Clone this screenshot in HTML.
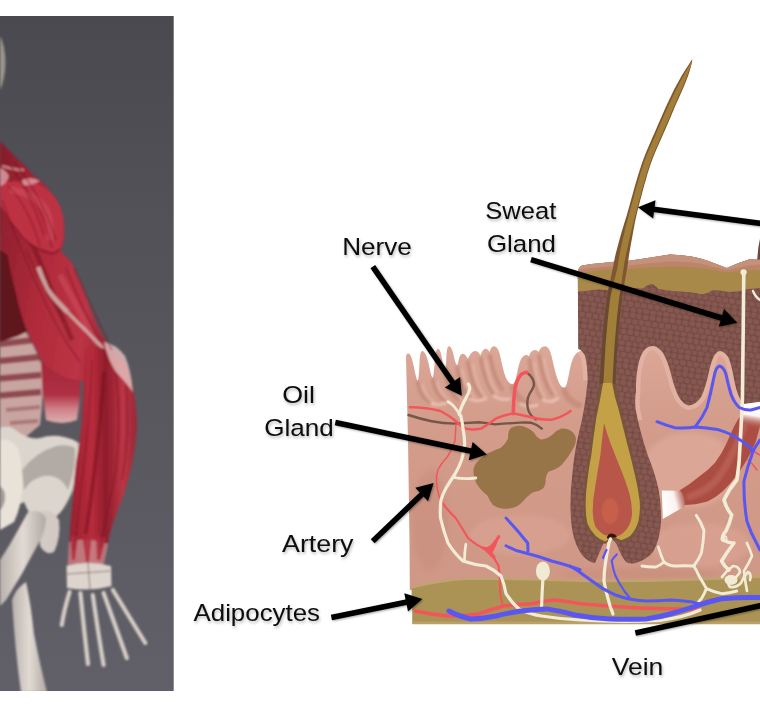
<!DOCTYPE html>
<html lang="en">
<head>
<meta charset="utf-8">
<title>Skin anatomy</title>
<style>
html,body{margin:0;padding:0;background:#fff;}
body{width:760px;height:712px;overflow:hidden;position:relative;font-family:"Liberation Sans",sans-serif;}
svg{position:absolute;left:0;top:0;display:block;}
.lbl{font-family:"Liberation Sans",sans-serif;font-size:24.5px;fill:#0c0c0c;}
</style>
</head>
<body>
<svg width="760" height="712" viewBox="0 0 760 712">
<defs>
  <linearGradient id="bgPhoto" x1="0" y1="0" x2="0" y2="1">
    <stop offset="0" stop-color="#4a4950"/>
    <stop offset="0.32" stop-color="#535258"/>
    <stop offset="0.65" stop-color="#5a5960"/>
    <stop offset="1" stop-color="#615f68"/>
  </linearGradient>
  <clipPath id="clipPhoto"><rect x="0" y="16" width="173.7" height="675"/></clipPath>
  <filter id="b1" x="-20%" y="-20%" width="140%" height="140%"><feGaussianBlur stdDeviation="1.2"/></filter>
  <filter id="b2" x="-20%" y="-20%" width="140%" height="140%"><feGaussianBlur stdDeviation="2.5"/></filter>
  <filter id="b08" x="-20%" y="-20%" width="140%" height="140%"><feGaussianBlur stdDeviation="0.9"/></filter>
  <filter id="soft" x="-2%" y="-2%" width="104%" height="104%"><feGaussianBlur stdDeviation="0.45"/></filter>
  <filter id="b05" x="-20%" y="-20%" width="140%" height="140%"><feGaussianBlur stdDeviation="0.6"/></filter>
  <filter id="tsh" x="-20%" y="-30%" width="140%" height="180%">
    <feGaussianBlur in="SourceAlpha" stdDeviation="1.4" result="b"/>
    <feOffset in="b" dx="0.8" dy="1.6" result="o"/>
    <feComponentTransfer in="o" result="s"><feFuncA type="linear" slope="0.28"/></feComponentTransfer>
    <feMerge><feMergeNode in="s"/><feMergeNode in="SourceGraphic"/></feMerge>
  </filter>
  <filter id="ash" x="-20%" y="-20%" width="140%" height="140%">
    <feGaussianBlur in="SourceAlpha" stdDeviation="1.2" result="b"/>
    <feOffset in="b" dx="0.6" dy="1.4" result="o"/>
    <feComponentTransfer in="o" result="s"><feFuncA type="linear" slope="0.35"/></feComponentTransfer>
    <feMerge><feMergeNode in="s"/><feMergeNode in="SourceGraphic"/></feMerge>
  </filter>
  <pattern id="cells" width="20" height="17" patternUnits="userSpaceOnUse" patternTransform="rotate(8)">
    <rect width="20" height="17" fill="#734a44"/>
    <g fill="#86584f">
    <path d="M0.8 1.5 Q3.5 0.2 6 1.2 Q7.2 3.2 6.2 5.4 Q3.6 6.6 1.2 5.4 Q0 3.4 0.8 1.5Z"/>
    <path d="M7.8 0.8 Q10.5 -0.2 13 1 Q14 3.5 12.6 5.6 Q10 6.4 8 5.2 Q7 3 7.8 0.8Z"/>
    <path d="M14.6 1.2 Q17 0.2 19.2 1.4 Q20 4 18.8 6 Q16.4 6.8 14.6 5.6 Q13.8 3.4 14.6 1.2Z"/>
    <path d="M-2.2 7 Q0.5 6 2.6 7.2 Q3.6 9.6 2.4 11.6 Q0 12.6 -2.2 11.4Z"/>
    <path d="M17.8 7 Q20.5 6 22.6 7.2 Q23.6 9.6 22.4 11.6 Q20 12.6 17.8 11.4 Q17 9 17.8 7Z"/>
    <path d="M4.2 7 Q7 6 9.6 7.2 Q10.6 9.6 9.4 11.6 Q6.8 12.6 4.4 11.4 Q3.4 9 4.2 7Z"/>
    <path d="M11.2 7 Q13.6 6.2 16 7.4 Q17 9.6 16 11.6 Q13.6 12.4 11.4 11.4 Q10.4 9.2 11.2 7Z"/>
    <path d="M0.8 12.8 Q3.6 11.8 6.2 13 Q7 15 6.2 16.6 Q3.4 17.4 1 16.4 Q0 14.6 0.8 12.8Z"/>
    <path d="M7.8 12.8 Q10.6 12 13 13.2 Q13.8 15 13 16.6 Q10.4 17.4 8 16.4 Q7 14.6 7.8 12.8Z"/>
    <path d="M14.6 12.8 Q17 12 19.2 13.2 Q20 15 19.2 16.6 Q17 17.4 14.8 16.4 Q14 14.6 14.6 12.8Z"/>
    </g>
  </pattern>
</defs>

<!-- ================= PHOTO ================= -->
<g id="photo" clip-path="url(#clipPhoto)">
  <rect x="0" y="16" width="174" height="675" fill="url(#bgPhoto)"/>
  <g id="photo-shapes" filter="url(#b1)">
  <defs>
<linearGradient id="mus1" x1="0" y1="0" x2="1" y2="0.3">
<stop offset="0" stop-color="#861c2a"/><stop offset="0.45" stop-color="#b02b3b"/><stop offset="0.8" stop-color="#bb3445"/><stop offset="1" stop-color="#962231"/></linearGradient>
<linearGradient id="mus2" x1="0" y1="0" x2="1" y2="0">
<stop offset="0" stop-color="#941e2e"/><stop offset="0.35" stop-color="#b92c3d"/><stop offset="0.55" stop-color="#8e1c2b"/><stop offset="0.8" stop-color="#bd3545"/><stop offset="1" stop-color="#9a2735"/></linearGradient>
<linearGradient id="bone1" x1="0" y1="0" x2="1" y2="0">
<stop offset="0" stop-color="#b9b2ad"/><stop offset="0.5" stop-color="#e2dbd3"/><stop offset="1" stop-color="#b0a8a4"/></linearGradient>
</defs>
<!-- skull sliver -->
<path fill="#9b948c" d="M0 36 Q5 45 5.5 62 Q5 80 0 90 Z"/>
<!-- pole / lower leg bone -->
<path fill="url(#bone1)" d="M12 600 Q16 588 26 582 Q31 605 34 634 Q40 665 47 692 L21 692 Q15 650 12 600Z"/>
<!-- spine / ribs -->
<path fill="#c9a5a1" d="M0 330 L22 326 Q34 345 42 366 Q44 395 40 425 L22 440 L0 436 Z"/>
<g stroke="#7c2c35" stroke-width="6.5" opacity="0.75"><path d="M0 344 L34 340 M0 361 L40 357 M0 378.5 L41 375 M0 395.5 L41 392"/></g>
<g stroke="#8a4a4c" stroke-width="4" opacity="0.5"><path d="M6 410 L40 407 M10 423 L38 421"/></g>
<!-- dark torso behind arm -->
<path fill="#5e121b" d="M0 236 L9 250 Q16 290 30 330 L18 336 L0 342 Z"/>
<!-- pelvis -->
<path fill="#dcd5cd" d="M0 428 Q10 424 18 432 Q30 440 40 438 Q52 434 64 437 Q74 439 78.5 443 Q80 466 72 492 Q66 506 60 513 Q52 522 40 522 Q30 518 24 502 L0 514 Z"/>
<path fill="#a9a29e" d="M22 470 Q36 452 56 446 Q68 444 75 448 Q76 468 68 490 Q60 474 44 476 Q32 478 24 490 Z" opacity="0.85"/>
<path fill="#e9e2d9" d="M0 440 Q10 438 18 448 Q24 470 22 492 Q20 510 14 522 L0 530 Z"/>
<path fill="#8f8a88" d="M0 486 Q6 490 5 500 Q3 508 0 510Z" opacity="0.8"/>
<path fill="#d2cac3" d="M40 512 Q52 508 59 520 Q61 538 54 552 Q46 556 40 546 Z"/>
<!-- femur -->
<path fill="url(#bone1)" d="M28 512 Q40 508 46 518 Q46 532 36 548 Q22 575 6 600 L0 606 L0 560 Q10 545 18 530 Z"/>
<!-- hanging back muscle -->
<defs><linearGradient id="hang" x1="0" y1="0" x2="0" y2="1"><stop offset="0" stop-color="#9d2434"/><stop offset="0.6" stop-color="#b03044"/><stop offset="0.8" stop-color="#cf7f88"/><stop offset="1" stop-color="#dbb0ae"/></linearGradient></defs>
<path fill="url(#hang)" d="M41 352 Q60 352 80 360 Q82 390 77 420 Q62 426 46 420 Q41 385 41 352Z"/>
<!-- shoulder + upper arm -->
<path fill="url(#mus1)" d="M0 141 Q8 150 15 156.5 Q26 166 34 175.5 Q44 183 49.5 190.5 Q57 199 60.7 209.7 Q64.5 221 64.5 232.5 Q64 243 60.7 251.5
Q66 256 72 263 Q78 276 83.5 289.5 Q89 305 95 320 Q100 332 106.3 342.6 Q113 351 121.5 357.8 Q128 366 131 377 L118 384 L84 381 Q72 380 64.5 377 Q54 372 45.6 365.4 Q39 357 34 346.4 Q27 333 22.8 319.8 Q18 305 15 289.5 Q10 270 7.6 255 L0 250 Z"/>
<!-- shading on upper arm -->
<path fill="none" stroke="#7c1522" stroke-width="5" opacity="0.6" d="M2 175 Q20 215 40 262 Q55 300 72 340"/>
<path fill="none" stroke="#d25060" stroke-width="6" opacity="0.5" d="M18 185 Q40 205 48 240 M60 275 Q78 310 98 345"/>
<path fill="none" stroke="#d2aeaa" stroke-width="4.6" opacity="0.9" d="M38.2 267 Q42 278 47.2 289.4 Q56 301 67.4 312"/><path fill="none" stroke="#d2aeaa" stroke-width="3.2" opacity="0.9" d="M67.4 312 Q76 321 85.4 330 Q93 338 101 346 Q106 352 110 357"/>
<path fill="none" stroke="#e0a8a8" stroke-width="2.5" opacity="0.7" d="M2 166 Q14 170 24 170"/>

<!-- deltoid -->
<path fill="#7a1522" opacity="0.55" d="M0 205 L4.5 213 Q10 223 18 232 Q24 241 33.7 248 Q42 253 51.6 255 Q58 254 61 249 L52 250 Q30 240 14 222 Z"/>
<path fill="#bd3042" d="M0 183 Q14 179.5 33.7 182.7 Q44 186 49.4 191.6 Q57 198 60.6 207.3 Q64.5 218 64 229.8 Q63 240 59.5 247.8 Q56 252 51.6 252 Q42 250 33.7 245.5 Q24 239 18 229.8 Q10 221 4.5 211.8 L0 205Z"/>
<path fill="none" stroke="#d45868" stroke-width="7" opacity="0.45" d="M10 190 Q34 192 46 210 Q52 224 50 240"/>
<path fill="none" stroke="#7a1522" stroke-width="1.6" opacity="0.45" d="M8 186 Q28 205 40 246 M22 184 Q42 204 52 248"/>
<path fill="#e3a3ab" opacity="0.8" d="M0 168 Q6 170 9 176 Q7 184 0 186Z M22 180 Q31 176 40 181 Q32 186 23 185Z"/>
<!-- forearm -->
<path fill="url(#mus2)" d="M85.4 349 Q100 344 114 352.8 Q122 359 127 368 Q132 382 134.8 398 Q137 414 136.7 428.7 Q136 444 132.9 459 Q130 475 125.3 489.5 Q120 505 114 519.8 Q109 535 106 550 L103.5 565 L67.5 565 L69.5 538.8 Q70.5 520 72.7 500.8 Q73.5 482 76 463 Q79.5 444 81.6 425 Q83 406 83.5 387 Z"/>
<path fill="none" stroke="#7a1420" stroke-width="4" opacity="0.6" d="M104 372 Q100 430 92 490 Q88 520 84 545"/>
<path fill="#e6c4c2" opacity="0.8" d="M104 342 Q116 344 125 356 Q131 370 133 392 Q124 380 116 372 Q108 360 104 342Z"/>
<path fill="#d4aeaa" opacity="0.6" d="M69 542 Q86 536 108 544 L103.5 566 L67.5 566 Z"/>
<g fill="#b02c3c" opacity="0.85"><path d="M70 536 L78 536 L75 560 L72 560Z M82 534 L92 534 L89 562 L86 562Z M96 536 L106 538 L100 560 L97 560Z"/></g>
<!-- wrist -->
<path fill="#ddd5cd" d="M66.5 566 Q88 560 111 566 L111.5 586 Q90 592 67 588 Z"/>
<path stroke="#6a4a48" stroke-width="1" fill="none" opacity="0.7" d="M67 574 L110 571 M88 562 L90 590"/>
<!-- fingers -->
<g stroke="#d6cec6" stroke-width="4.2" stroke-linecap="round" fill="none">
<path d="M69.6 592 Q64 610 61.8 625"/>
<path d="M80.4 593 Q84 630 88 664"/>
<path d="M92.8 595 Q98 632 103.6 665"/>
<path d="M103.6 593 Q116 628 126.8 658"/>
<path d="M112.9 590 Q130 618 145.3 643"/>
</g>

<g fill="none" stroke="#6f1420" stroke-width="1.6" opacity="0.45">
<path d="M6 160 Q30 190 44 235 M14 162 Q42 196 56 240 M2 200 Q20 250 44 300 Q60 335 80 362 M26 250 Q44 290 64 322 M66 268 Q80 305 100 342 M74 268 Q92 310 112 350"/>
<path d="M92 360 Q90 420 82 480 Q78 520 74 550 M116 372 Q122 420 116 470 Q108 510 100 548 M126 385 Q130 430 122 480"/>
</g>

  </g>
</g>

<!-- ================= SKIN ================= -->
<g id="skin" filter="url(#soft)">
<defs><linearGradient id="dermG" gradientUnits="userSpaceOnUse" x1="0" y1="345" x2="0" y2="600"><stop offset="0" stop-color="#dba797"/><stop offset="0.3" stop-color="#d39c8b"/><stop offset="1" stop-color="#cf9785"/></linearGradient></defs>
<!-- dermis base -->
<path id="dermis" fill="url(#dermG)" d="M409.8 590 L409.5 540 L408 440 L406 358
C406 354.5 407 353.3 408.5 353.5 C410.5 354 412 358 413.5 365 C415 372 416 378 417.5 380.5
C418.3 381 418.8 376 419.3 368 C419.6 360 419.8 352 422 351 C425 351 427 357 428.5 363 C430 370 431 375.5 432.5 377.5
C433.3 378 433.8 372 434.5 365 C435 357 435.5 349 438 348.7 C440.5 349 441.5 355 442.3 360 C443 365 443.8 369 445 370
C445.8 370 446 364 446.3 358 C446.6 352 447 346.5 449 346.3 C451.5 346.5 453 352 454 357 C455 361.5 456 364.5 457 365
C458 365 458.5 360 459.5 357 C460.5 354.5 461.5 353.8 462.8 353.8 C465 354 466.5 356 467.5 358.5
C468.5 359 470 352 475 351 C478 351 479.5 353.5 480.3 355.5
C481 355 482 349.5 485.3 348.8 C487.5 348.8 488.7 350.3 489.3 352
C490 351.5 490.8 346.5 494 346.3 C497.5 346.5 499 351 500.2 356 C502 364 503.5 372 506 378 C508 382 510 384 512.5 384
C515 384 516 378 517.5 371 C519 364 520.5 359 522.5 357 C524 355.5 525 355 526.5 355 C528 355 528.5 356 529 356.5
C530 352.5 532 350.3 535 350 C537 350 538 351 538.7 352 C540 348.5 542 346.5 545 346.3
C548.5 346.5 550.2 351 551.5 356 C553.5 364 555 372 557.5 379 C559.5 384.5 561.5 387.5 564 387.5
C566.5 387.5 567.5 381 569 374 C570.5 366 572 359 575 355 C576.5 353 578 352 580 351.5
L590 345 L760 340 L760 624 L412.5 624 L412.5 590 Z"/>

<!-- dermis shading -->
<g id="dermis-shade">
<defs><path id="epiOutline" d="M577.8 268 L578.2 349 Q582.5 350 585.2 356.5 Q587.5 366 587.7 380
Q585 410 578 436.8 Q573.5 458 572.4 473.7 Q570 492 570.5 510.5 Q570.8 522 572.5 531.6
Q575 545 582 555 Q588 562 595 563 Q598 556 601 549 Q604 541 608 538
Q613 538 617 545 Q621 556 626 562 Q631 564.5 635.7 563 Q646 560 653 552 Q660 540 661 521.5 Q661.5 505 658.4 488.6
Q654 470 648 456 Q640 432 635.7 410 Q634.5 398 636 391.6
Q635.5 378 638 366 Q640.5 353 645.8 348.6 Q649 345.5 653.4 346 Q659 347 663.5 353.7
Q668 362 671 374 Q674 387 678.6 396.6 Q683 404.5 688.7 405.5 Q696 405 701.4 396.6
Q706 386 709 371.4 Q711 362 714 356 Q717 351 720.3 351 Q725 351.5 729 358.7
Q732 367 734 379 Q736 390 739 396.6 Q741 402 743 404 Q750 403 760 401.7 L760 258.8 L748.9 259.6 Q737.9 262.9 726.8 268 L708.4 261 Q693.7 255.5 669.7 254.6 Q647.6 258.3 627.4 261 Q600 262.5 582 265.5 Q578 267.5 577.8 272 Z"/><clipPath id="rimClip"><rect x="630" y="330" width="130" height="90"/><rect x="565" y="330" width="30" height="50"/></clipPath><clipPath id="clipDermis"><use href="#dermis"/></clipPath></defs>
<g clip-path="url(#clipDermis)">
<g fill="none" stroke-linecap="round" filter="url(#b08)">
<g stroke="#c08676" stroke-width="4.2" opacity="0.7">
<path d="M417.8 383 C419 391 422 398 430 402"/>
<path d="M432.8 380 C434 388 437 396 446 401"/>
<path d="M445.3 373 C447 383 450 393 458 399"/>
<path d="M457.2 368 C459 379 462 390 470 397"/>
<path d="M468 362 C470 375 473 388 481 396"/>
<path d="M480.8 359 C483 371 486 384 493 393"/>
<path d="M489.8 356 C492 367 495 380 502 389"/>
<path d="M529.5 360 C531 373 534 388 541 398"/>
<path d="M539.2 356 C541 369 545 384 552 394"/>
</g>
<g stroke="#c28878" stroke-width="6.5" opacity="0.65">
<path d="M513 388 C515 394 519 400 528 404"/>
<path d="M564.5 391 C566 396 570 402 579 405"/>
</g>
<g stroke="#e4b5a6" stroke-width="3" opacity="0.7">
<path d="M422.5 385 C424 392 427 398 434 402.5"/>
<path d="M437.5 382 C439 389 442 396 450 401.5"/>
<path d="M450 375 C452 384 455 393 462 399.5"/>
<path d="M462 370 C464 380 467 390 474 397.5"/>
<path d="M472.8 365 C475 377 478 388 485 396.5"/>
<path d="M485.2 361 C487.5 372 490 384 497 393"/>
<path d="M534.3 363 C536 375 539 388 545 398"/>
<path d="M544 359 C546 371 549.5 384 556 394"/>
</g>
<g stroke="#ecc2b4" stroke-width="3" opacity="0.9">
<path d="M432 403.5 Q438 406 446 403"/>
<path d="M470 399 Q478 402.5 486 398.5"/>
<path d="M494 396 Q502 401 509 399"/>
<path d="M543 400 Q551 404 558 398"/>
<path d="M521 404 Q529 408 537 405"/>
</g>
</g>

<!-- light rim around epidermis bottom -->
<use href="#epiOutline" fill="none" stroke="#e3b1a1" stroke-width="9" filter="url(#b05)" clip-path="url(#rimClip)"/>
<!-- broad tone patches -->
<ellipse cx="690" cy="470" rx="48" ry="38" fill="#dfab9b" opacity="0.7" filter="url(#b2)"/>
<ellipse cx="700" cy="545" rx="50" ry="22" fill="#dca595" opacity="0.6" filter="url(#b2)"/>
<ellipse cx="430" cy="520" rx="18" ry="50" fill="#c88c7c" opacity="0.5" filter="url(#b2)"/>
<ellipse cx="520" cy="535" rx="50" ry="20" fill="#dba595" opacity="0.55" filter="url(#b2)"/>
<ellipse cx="640" cy="574" rx="80" ry="6" fill="#c48a78" opacity="0.45" filter="url(#b2)"/>
</g>

</g>

<!-- hypodermis -->
<path fill="#c2a274" d="M411.5 586.5 Q440 579 466 577.5 Q520 577 580 579.5 Q670 580 760 574 L760 600 L411.5 600Z"/>
<path fill="#ab9355" d="M412 588.5 Q440 581.5 466 580 Q520 579.5 580 582 Q670 583 760 578 L760 624 L412.5 624Z"/>
<path fill="#b9a169" d="M412.5 621.5 L760 621.5 L760 624.3 L412.5 624.3Z"/>

<!-- oil gland -->
<path fill="#987548" filter="url(#b05)" d="M511.6 427.6 Q518 424.5 524.5 426.7 Q530 428.5 533.7 432.2 Q537 438 541 439.6 Q547 439 552 435
Q556 430.5 561.3 428.6 Q566 427.8 570.5 430.4 Q575.5 433.5 576 438.7 Q576 444.5 572.4 449.7 Q569 456 565 460.8
Q562 465.5 557.6 468 Q553 470.5 548.4 471.8 Q546 475 545.7 479 Q546 485 543 488.4 Q539 491.5 533.7 492
Q529.5 494 526.3 497.6 Q523 502 519 505 Q512 509.5 504 508.7 Q497 508 493 505 Q489.5 501 487.6 495.8
Q483.5 492.5 480 488.4 Q476 484 474.7 479 Q472.8 473 473.8 468 Q475.5 462.5 480 459 Q483.5 455.5 487.6 453.4
Q494 450 500.5 447.9 Q505.5 444 508 438.7 Q508 434.5 508.8 431.3 Q509.8 428.7 511.6 427.6Z"/>

<!-- arrector pili muscle -->
<g id="muscle">
<defs>
<linearGradient id="tend1" gradientUnits="userSpaceOnUse" x1="662" y1="505" x2="686" y2="499">
<stop offset="0" stop-color="#ffffff"/><stop offset="0.55" stop-color="#fbf3f0"/><stop offset="1" stop-color="#ab4e43"/></linearGradient>
<linearGradient id="tend2" gradientUnits="userSpaceOnUse" x1="752" y1="404" x2="748" y2="428">
<stop offset="0" stop-color="#ffffff"/><stop offset="0.45" stop-color="#fdf6f3"/><stop offset="1" stop-color="#ab4e43" stop-opacity="0"/></linearGradient>
</defs>
<path fill="#ab4e43" d="M679.5 490.4 Q690 484.5 699.2 476.6 Q708 470.5 715 462.8 Q722 453.5 726.7 443 Q730.5 433.5 734.6 425.4 Q738 418.5 742.5 413.6 L760 408 L760 426 L756 441 Q752 451.5 746.4 460.8 Q741 470 734.6 478 Q729 485.5 722.8 491.3 Q715.5 498 707.5 501.5 Q695 505 683.5 505 Z"/>
<path fill="none" stroke="#b85d51" stroke-width="7" stroke-linecap="round" filter="url(#b1)" d="M690 496.5 Q705 492 716 480.5 Q728 465 736 446 Q740 436 744 427"/>
<path fill="url(#tend1)" d="M661.8 490.4 L680.5 490.8 Q686 497 684.5 506.5 L662.8 518.9 Z"/>
<path fill="url(#tend2)" d="M744 402.5 Q752 403 760 401.5 L760 432 L738 432 Q740 414 744 402.5Z"/>

</g>

<!-- epidermis brown block + follicle -->
<g id="epi">
<!-- brown body incl follicle sheath -->
<use href="#epiOutline" fill="url(#cells)"/>
<!-- mustard layer -->
<path fill="#a9894a" d="M577.8 272 Q600 266 627.4 266 Q650 262 669.7 261 Q700 262 726.8 271 Q745 266 760 266
L760 288 L746.9 289.3 Q737 292.5 726.6 291.8 Q719 289.5 711.5 290.5 Q706 294.5 701.4 294.3 Q692 292 683.7 291.8 Q670 291 658.4 289
Q654 284 651 284 Q646 285 643 288.5 Q638 288 633 288 Q620 289.5 608 290 Q596 288.5 585 291 L578 291.5 Z"/>
<!-- top layer (stratum corneum) -->
<path fill="#bc856a" d="M577.8 274 Q578 267.5 582 265.5 Q600 262.5 627.4 261 Q647.6 258.3 669.7 254.6 Q693.7 255.5 708.4 261 L726.8 268 Q737.9 262.9 748.9 259.6 L760 258.8
L760 270 Q745 269.5 726.8 272.5 Q700 266.5 669.7 266.6 Q650 267.5 627.4 269 Q600 269 584 272.5 Q580 273.5 577.8 279Z"/>
<path fill="#c4917a" d="M578 271 Q578.5 267.5 582 265.5 Q600 262.5 627.4 261 Q647.6 258.3 669.7 254.6 Q693.7 255.5 708.4 261 L726.8 268 Q737.9 262.9 748.9 259.6 L760 258.8
L760 264.5 Q745 265 728 270 Q715 267.5 700 263.5 Q685 261.5 669.7 261.6 Q650 263 627.4 265.8 Q600 266.5 584 269 Q580 270 578 271Z"/>

<polygon fill="#7f5630" points="691.8,59.8 688.5,65.0 685.1,70.2 681.8,75.5 678.9,80.7 676.0,85.9 673.4,91.1 670.9,96.3 668.4,101.6 665.9,106.8 663.6,112.0 661.3,117.2 659.0,122.4 656.7,127.7 654.5,132.9 652.2,138.1 650.0,143.3 647.7,148.5 645.5,153.8 643.5,159.0 641.6,164.2 639.9,169.4 638.3,174.6 636.7,179.9 635.2,185.1 633.7,190.3 632.3,195.5 630.8,200.7 629.4,206.0 627.9,211.2 626.4,216.4 624.8,221.6 623.2,226.8 621.6,232.1 620.1,237.3 618.7,242.5 617.3,247.7 615.9,253.0 614.7,258.2 613.7,263.4 612.8,268.6 611.7,273.8 610.6,279.1 609.5,284.3 608.4,289.5 607.5,294.7 606.6,299.9 606.0,305.2 605.3,310.4 604.7,315.6 604.2,320.8 603.7,326.0 603.2,331.3 602.7,336.5 602.2,341.7 601.8,346.9 601.4,352.1 601.1,357.4 600.8,362.6 600.5,367.8 600.2,373.0 599.9,378.2 599.7,383.5 599.4,388.7 599.2,393.9 599.0,399.1 598.8,404.3 598.7,409.6 598.6,414.8 598.5,420.0 614.5,420.0 614.5,414.8 614.6,409.6 614.8,404.3 614.9,399.1 615.1,393.9 615.3,388.7 615.5,383.5 615.7,378.2 615.9,373.0 616.2,367.8 616.4,362.6 616.7,357.4 617.0,352.1 617.3,346.9 617.7,341.7 618.1,336.5 618.5,331.3 619.0,326.0 619.4,320.8 619.9,315.6 620.5,310.4 621.0,305.2 621.6,299.9 622.4,294.7 623.3,289.5 624.2,284.3 625.2,279.1 626.2,273.8 627.1,268.6 627.9,263.4 628.6,258.2 629.4,253.0 630.3,247.7 631.2,242.5 632.2,237.3 633.1,232.1 634.1,226.8 635.1,221.6 636.2,216.4 637.4,211.2 638.8,206.0 640.1,200.7 641.5,195.5 642.9,190.3 644.3,185.1 645.8,179.9 647.3,174.6 648.9,169.4 650.6,164.2 652.5,159.0 654.6,153.8 656.8,148.5 659.2,143.3 661.5,138.1 663.7,132.9 666.0,127.7 668.3,122.4 670.5,117.2 672.7,112.0 674.9,106.8 677.2,101.6 679.6,96.3 681.9,91.1 684.1,85.9 686.2,80.7 688.2,75.5 689.9,70.2 691.3,65.0 692.4,59.8"/>
<polygon fill="#6b4a33" points="609.5,284.0 608.3,289.9 607.3,295.8 606.4,301.7 605.7,307.7 605.0,313.6 604.3,319.5 603.7,325.4 603.2,331.3 602.6,337.2 602.1,343.1 601.7,349.0 601.3,355.0 600.9,360.9 600.5,366.8 600.2,372.7 599.9,378.6 599.6,384.5 599.4,390.4 599.1,396.3 598.9,402.3 598.7,408.2 598.6,414.1 598.5,420.0 614.5,420.0 614.6,414.1 614.7,408.2 614.8,402.3 615.0,396.3 615.2,390.4 615.4,384.5 615.7,378.6 615.9,372.7 616.2,366.8 616.5,360.9 616.8,355.0 617.2,349.0 617.6,343.1 618.0,337.2 618.5,331.3 619.0,325.4 619.6,319.5 620.1,313.6 620.8,307.7 621.4,301.7 622.2,295.8 623.2,289.9 624.3,284.0"/>
<polygon fill="#a27f38" points="690.7,63.0 687.8,68.2 684.8,73.3 681.9,78.5 679.1,83.7 676.5,88.9 673.9,94.0 671.4,99.2 669.0,104.4 666.6,109.6 664.3,114.7 662.0,119.9 659.8,125.1 657.5,130.3 655.3,135.4 653.1,140.6 650.8,145.8 648.5,151.0 646.4,156.1 644.4,161.3 642.7,166.5 641.0,171.7 639.4,176.8 637.9,182.0 636.4,187.2 634.9,192.3 633.5,197.5 632.1,202.7 630.7,207.9 629.3,213.0 628.0,218.2 626.6,223.4 625.3,228.6 624.1,233.7 622.8,238.9 621.7,244.1 620.6,249.3 619.6,254.4 618.7,259.6 617.9,264.8 616.9,270.0 615.7,275.1 614.3,280.3 613.0,285.5 611.8,290.7 610.7,295.8 609.9,301.0 609.3,306.2 608.7,311.3 608.1,316.5 607.6,321.7 607.1,326.9 606.7,332.0 606.2,337.2 605.8,342.4 605.4,347.6 605.1,352.7 604.8,357.9 604.5,363.1 604.2,368.3 603.9,373.4 603.7,378.6 603.4,383.8 603.1,389.0 602.9,394.1 602.6,399.3 602.4,404.5 602.2,409.7 602.0,414.8 601.8,420.0 611.9,420.0 611.9,414.8 611.9,409.7 612.0,404.5 612.1,399.3 612.2,394.1 612.4,389.0 612.5,383.8 612.7,378.6 612.9,373.4 613.2,368.3 613.5,363.1 613.8,357.9 614.1,352.7 614.4,347.6 614.8,342.4 615.2,337.2 615.7,332.0 616.1,326.9 616.6,321.7 617.1,316.5 617.7,311.3 618.3,306.2 618.9,301.0 619.5,295.8 620.3,290.7 621.0,285.5 621.8,280.3 622.5,275.1 623.3,270.0 624.1,264.8 625.0,259.6 626.0,254.4 627.1,249.3 628.3,244.1 629.4,238.9 630.7,233.7 631.9,228.6 633.2,223.4 634.5,218.2 635.8,213.0 637.2,207.9 638.6,202.7 640.0,197.5 641.3,192.3 642.7,187.2 644.2,182.0 645.7,176.8 647.2,171.7 648.9,166.5 650.6,161.3 652.6,156.1 654.7,151.0 657.0,145.8 659.3,140.6 661.5,135.4 663.7,130.3 666.0,125.1 668.2,119.9 670.4,114.7 672.6,109.6 674.9,104.4 677.1,99.2 679.4,94.0 681.7,88.9 683.9,83.7 686.0,78.5 688.0,73.3 690.0,68.2 691.7,63.0"/>
<!-- follicle: sheath ring, bulb -->
<path fill="#78563a" d="M599.8 384 Q597.5 402 594.3 418 Q591.5 437 589.2 455.8 Q586.5 470 585.4 481 Q583.4 494 583.7 506 Q583.6 516 585.4 524 Q588.5 532 594.3 537.6 Q599 542 605.4 544 Q609 540.5 612 538.5 Q617 540 621.8 542.7 Q627 541 631.6 537.6 Q638 531 640.5 521.5 Q642.5 511 641.7 501 Q640 488 637.2 476 Q633 458 629 443 Q624.5 425 620.5 408 Q617 395 615.4 384 Z"/>
<path fill="#c4a046" d="M603 383 Q599.8 402 596.3 418 Q593.5 437 591.2 455.8 Q588.5 470 587.4 481 Q585.4 494 585.7 506 Q585.6 516 587.4 523.5 Q590.5 531 595.8 536.1 Q600 540 605.4 541.5 Q609 538.5 612 537 Q617 538 621.3 540.2 Q626 539 630.1 536.1 Q636 530 638.5 521 Q640.5 511 639.7 501 Q638 488 635.2 476 Q631 458 627 443 Q622.5 425 618.5 409 Q614 396 612.2 383 Z"/>
<path fill="#b8564a" d="M604 423 Q602 440 600.3 455.8 Q597.5 472 595.3 486 Q592.7 499 592.7 511.4 Q593 520 595.3 526.5 Q599.5 532.5 605.4 535.4 Q609 534.5 612 535.5 Q616 536.5 619.3 535.4 Q624 533 626.8 529 Q631.5 522.5 632 514 Q632 503 629.4 493.7 Q625.5 480 620.5 468.4 Q615 455 610.4 443 Q606.5 432 604 423Z"/>
<ellipse cx="610" cy="511" rx="8.5" ry="13" fill="#d4694c" opacity="0.55" filter="url(#b1)"/>
<path fill="#34170f" d="M606.8 537.5 Q608 533.8 611.5 533.6 Q615 533.8 617 536.6 Q615.5 538.4 612.6 537.6 Q609.5 537.3 608 539 Z"/>

<path fill="#6a4a40" d="M757.3 259.5 Q757.8 248 760 238.5 L760 259.5 Z"/>

</g>

<!-- vessels and nerves -->
<g id="vessels" fill="none" stroke-linecap="round" stroke-linejoin="round">
<!-- grey-brown line -->
<g stroke="#75574a" stroke-width="2.4">
<path d="M408.5 415 Q420 418.8 431.6 421.2 Q443 423.3 455 423.6 Q467 423 479 422.3 Q487 423 494.7 424.4 Q507 423.4 520 422.6 Q527 422.3 531.5 422.8 Q537.5 424.5 541.8 428.6"/>
<path d="M526 372 Q530 374.5 532.6 378.7 Q534.3 382 534 385.3 Q532.5 389.5 530 393 Q527.7 397 527.4 401 Q527 405 528 409 Q529 413 531.3 415.5 Q533.5 418 536 419.5"/>
</g>
<!-- red arteries -->
<g stroke="#f2575a">
<path stroke-width="2.5" d="M409.8 407.2 Q425 407 440.5 411 Q449 415.5 455.7 421 Q460 426 465.8 428.6 Q473 430.3 481 428.6 Q489 424 496 418.5 Q505 414.5 513.8 413.5 Q522 415 531.5 417.3 Q541 420.2 551.7 419.8 Q560 418 566.9 413.5 L570.6 411"/>
<path stroke-width="3.6" d="M513.2 413.8 Q513.5 400 515 388 Q517 379 521.4 374.3 Q524 372.5 527 372.3"/>
<path stroke-width="1.5" d="M456 424 Q455.5 433 455 441 Q452 449.5 447.4 456.8 Q441.5 463 438 469.5 Q436 476 436.5 482 Q437 488.5 438.7 494.7 Q439.5 497.5 440.5 500"/>
<path stroke-width="2.2" d="M440.5 500 Q447 510 455.7 518 Q462 528 468 538 Q477 546 488.5 550.7 Q494.5 557.5 498.6 566 Q500.5 578 500 591 Q500.8 598 502.4 603.8"/>
<path stroke-width="3" d="M483 548 L488.5 550.7 L494 557 M488.5 550.7 Q494 545 498.8 536.5"/>
<path fill="#f2575a" stroke="none" d="M481 546.5 Q488 548.5 491.5 544 L498.8 535.8 Q497 546 492.5 552.5 Q495 558 497 562.5 Q491 557 486.5 552.5 Z"/>
<path stroke-width="3.6" d="M415 611 Q431 614.5 448 616 Q464 616.2 478 614 Q491 609.5 503.7 606 Q517 604.2 531.5 603.8 Q543 601.2 554 600 Q567 601.2 580 603.8 Q610 606.5 640 608 Q670 609.3 698 609"/>
<path stroke-width="3.6" d="M711 600 Q730 597 760 598"/>
<path stroke-width="1.6" d="M752 448 Q755 453 760 455 M748 460 Q753 464 757 470"/>
</g>
<!-- nerves (cream) -->
<g stroke="#f2ecd6">
<path stroke-width="3.2" d="M468.4 384 Q470 386.5 469.7 389.2 Q468.5 394 465.8 398.4 Q463.5 402.5 461.8 406.3 Q460 410.5 459.2 414.2 Q460.2 415 460.8 415.8 Q462.3 422 463 428.4 Q464.5 436 464.7 444 Q463.8 452.5 461.6 460 Q458.8 467.5 455 474 Q450 481.5 445.8 488.4 Q442.8 494 441 500 Q439.8 509 440.5 518 Q443.5 531 448 543 Q454.5 553.5 463 561 Q474 564.8 486 566 Q494.5 570 501 576 Q504.5 584.5 506 593.7 Q511.5 602.5 519 609 Q529 614 541.6 616 Q560 619 580 620 Q620 622.5 660 620.5 Q685 617 700 610"/>
<path stroke-width="2.7" d="M448 401.7 Q450.5 403 452.6 405 Q455.5 408 457.9 411.6 L459.5 414.5"/>
<path stroke-width="2.9" d="M453.7 477.4 Q464 479.5 475.8 478"/>
<path stroke-width="2.7" d="M465.8 544.4 Q464.5 552 464.5 559.6"/>
<path stroke-width="3.2" d="M543 578 Q542 592 541.6 606"/>
<ellipse cx="542.9" cy="571" rx="7" ry="9.6" fill="#f0ead2" stroke="none"/>
<path stroke-width="3.2" d="M610.5 539 Q609.5 541 609 543 Q607 553 605.4 563.4 Q604 572 604 581 Q605.5 590 608 598.7 Q610 607 613 614"/>
<!-- long vertical nerve -->
<path stroke-width="3.6" d="M743.8 272 L743.2 330 L742.4 400 Q741 432 739 463 Q738 472 736.8 480 Q729 489 724 500 Q726 508 731.7 515 Q729.5 524 726 531 Q721 536 724 540.5 Q730 543.5 734 543 Q727 552 721.6 561 Q724 566 729 570"/>
<circle cx="743.6" cy="272.3" r="3.1" fill="#f2ecd6" stroke="none"/>
<path stroke-width="2.4" d="M753 291 Q755 296.5 760 300"/>
<!-- right network -->
<path stroke-width="2.9" d="M642 566 Q649 567.3 656 567 Q660 565.5 664 562 Q670 566.5 676 566 Q685 565.5 693.8 566 Q697 571 699 576 Q703 582.5 706.4 588.6 Q704.5 594 701.4 598.7 Q698 602.5 693.8 606"/>
<path stroke-width="2.7" d="M658.4 547 Q660.5 554.5 663.5 561"/>
<path stroke-width="2.9" d="M693.8 566 Q698.5 560 701.4 553 Q703.5 541.5 704 530.5 Q701 522 696.3 515.4"/>
<path stroke-width="2.9" d="M706.4 588.6 Q714 592 721.6 593.7 Q729.5 593 736.8 591"/>
<path stroke-width="2.7" d="M746.9 543 Q750 549 752 556 Q748.5 564 744 571 Q745 581 747 591"/>
<path stroke-width="2.7" d="M722 577 Q727 570 733 566 Q739 566 740 572 Q737 578 731 579 Q726 583 730 587 Q736 588 741 583 Q744 576 748 572 Q752 574 750 580"/>
<ellipse cx="731" cy="580" rx="6.5" ry="5" fill="#f2ecd6" stroke="none"/>
<circle cx="724" cy="538.5" r="2.6" fill="none" stroke-width="1.8"/>
</g>
<!-- blue veins -->
<g stroke="#5a57f2">
<path stroke-width="3" d="M506 518 Q517 529.5 527.7 543 L528 551 M506 545.7 Q515.5 551 526.4 553.3 Q539.5 556.5 551.7 561 Q566 564.5 580 569.7"/>
<path stroke-width="3.1" d="M570 566 Q578 570.5 585 576 Q594 582.5 603 588.6 Q609.5 592.3 615.5 595 Q622 597.3 628 598.7 Q637 600.4 646 601 Q659 600.8 671 600 Q681 600.8 691 601.8 L700 604"/>
<path stroke-width="2.2" d="M606.5 550 Q604.5 554 603 558 M616.7 554.5 Q613.5 557.5 611.7 560.8 Q613 569 615.5 576 Q619.5 584 624.3 591 L629.4 597.5"/>
<path stroke-width="5" d="M449 611 Q459 616.5 470.8 619 Q484 618.5 496 616 Q508 613 521 611 Q534 609.3 546.6 608.9 Q561 611 575 615 Q592 618.3 610 619 Q628 619.6 646 619 Q659 617.3 670 614 Q684 610 696 606 Q708.5 601.5 721.6 598.7 Q740 597 760 597.5"/>
<path stroke-width="3" d="M657 421.7 Q666 425.5 675 427.7 Q685.5 428.3 695.5 427 Q706.5 427.7 717.4 429.4 Q726 432 734 436 Q743 441.5 751 448 L752.5 453 Q747.5 466.5 744 481 Q743.5 501.5 747 521.5 Q751 533.5 757 544 L760 550"/>
<path stroke-width="3" d="M752.5 452 Q756 445.5 760 440"/>
<path stroke-width="3" d="M695.5 426.5 Q702.5 417.5 707 407.5 Q711 392.5 714 377 Q715.8 367 719.5 366 Q723.5 367 725.8 373.8 Q728 384 730.9 394 Q734 402.5 739.3 407.5 Q745 410.5 751 410 L760 407.5"/>
</g>

</g>

</g>

<!-- ================= ARROWS ================= -->
<g id="arrows" fill="#000" stroke="#000" filter="url(#ash)">
<line x1="372.8" y1="266.7" x2="453.0" y2="383.0" stroke-width="5.6"/><polygon stroke="none" points="461.8,395.8 444.8,387.5 460.1,377.0"/>
<line x1="531.0" y1="259.6" x2="722.4" y2="318.2" stroke-width="5.6"/><polygon stroke="none" points="737.2,322.7 718.7,326.7 724.1,309.0"/>
<line x1="772.0" y1="224.9" x2="653.3" y2="209.3" stroke-width="5.6"/><polygon stroke="none" points="637.9,207.3 655.5,200.3 653.1,218.6"/>
<line x1="335.3" y1="422.6" x2="471.6" y2="451.3" stroke-width="5.6"/><polygon stroke="none" points="486.8,454.5 468.7,460.2 472.6,442.0"/>
<line x1="372.7" y1="541.2" x2="422.4" y2="493.8" stroke-width="5.6"/><polygon stroke="none" points="433.6,483.1 428.0,501.2 415.3,487.8"/>
<line x1="331.4" y1="617.6" x2="407.1" y2="602.1" stroke-width="5.6"/><polygon stroke="none" points="422.3,599.0 408.0,611.4 404.3,593.2"/>
<line x1="635.4" y1="633.0" x2="772.0" y2="603.1" stroke-width="5.6"/>

</g>

<!-- ================= LABELS ================= -->
<g id="labels" class="lbl" filter="url(#tsh)">
<text x="342.2" y="254.8" textLength="69.7" lengthAdjust="spacingAndGlyphs">Nerve</text>
<text x="485.3" y="219" textLength="71" lengthAdjust="spacingAndGlyphs">Sweat</text>
<text x="487" y="252.2" textLength="69" lengthAdjust="spacingAndGlyphs">Gland</text>
<text x="282.2" y="403.2" textLength="32.7" lengthAdjust="spacingAndGlyphs">Oil</text>
<text x="264.2" y="435.5" textLength="69.5" lengthAdjust="spacingAndGlyphs">Gland</text>
<text x="282" y="551.5" textLength="71.5" lengthAdjust="spacingAndGlyphs">Artery</text>
<text x="193.5" y="621.4" textLength="126.5" lengthAdjust="spacingAndGlyphs">Adipocytes</text>
<text x="611.8" y="675.2" textLength="51.5" lengthAdjust="spacingAndGlyphs">Vein</text>

</g>
</svg>
</body>
</html>
